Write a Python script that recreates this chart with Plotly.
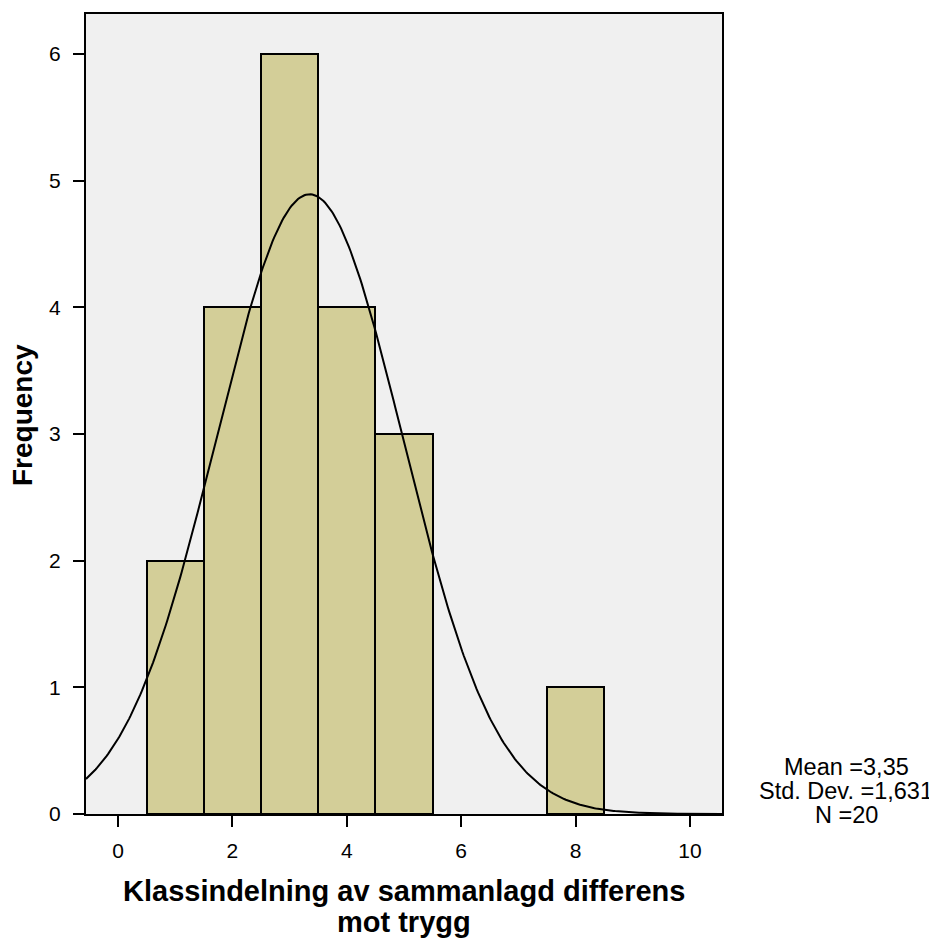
import numpy as np
import plotly.graph_objects as go

bin_centers = [1, 2, 3, 4, 5, 8]
frequencies = [2, 4, 6, 4, 3, 1]
mean_val = 3.35
std_val = 1.631
n_val = 20
x_ticks = [0, 2, 4, 6, 8, 10]
y_ticks = [0, 1, 2, 3, 4, 5, 6]
stats_lines = ["Mean =3,35", "Std. Dev. =1,631", "N =20"]
x_title_lines = ["Klassindelning av sammanlagd differens", "mot trygg"]
y_title = "Frequency"

x_min, x_max = -0.56, 10.56
xs = np.linspace(x_min, x_max, 400)
ys = n_val * 1.0 / (std_val * np.sqrt(2 * np.pi)) * np.exp(-((xs - mean_val) ** 2) / (2 * std_val ** 2))

fig = go.Figure()
fig.add_trace(go.Bar(
    x=bin_centers, y=frequencies, width=1,
    marker=dict(color="#D3CE98", line=dict(color="black", width=2)),
    showlegend=False, hoverinfo="x+y",
))
fig.add_trace(go.Scatter(
    x=xs, y=ys, mode="lines", line=dict(color="black", width=2),
    showlegend=False, hoverinfo="skip",
))

font_family = "Liberation Sans, Arial, sans-serif"
fig.update_layout(
    width=937, height=938,
    margin=dict(l=78, r=223, t=4, b=132),
    plot_bgcolor="#F0F0F0", paper_bgcolor="white",
    font=dict(family=font_family, color="black", size=21),
    bargap=0,
    xaxis=dict(
        range=[x_min, x_max], tickvals=x_ticks, ticks="outside", ticklen=11, tickwidth=2,
        tickcolor="black", showline=True, linecolor="black", linewidth=2, mirror=True,
        showgrid=False, zeroline=False, tickfont=dict(size=21), ticklabelstandoff=6,
    ),
    yaxis=dict(
        range=[0, 6.315], tickvals=y_ticks, ticks="outside", ticklen=11, tickwidth=2,
        tickcolor="black", showline=True, linecolor="black", linewidth=2, mirror=True,
        showgrid=False, zeroline=False, tickfont=dict(size=21), ticklabelstandoff=8,
    ),
)

def px_x(px):
    return (px - 86) / 636.0

def px_y(py):
    return (814 - py) / 802.0

for line, py in zip(stats_lines, [767, 791, 815]):
    fig.add_annotation(xref="paper", yref="paper", x=px_x(846), y=px_y(py), text=line,
                       showarrow=False, font=dict(size=23.5), xanchor="center", yanchor="middle")

for line, py in zip(x_title_lines, [891, 922]):
    fig.add_annotation(xref="paper", yref="paper", x=0.5, y=px_y(py), text="<b>" + line + "</b>",
                       showarrow=False, font=dict(size=29), xanchor="center", yanchor="middle")

fig.add_annotation(xref="paper", yref="paper", x=px_x(23), y=px_y(414), text="<b>" + y_title + "</b>",
                   textangle=-90, showarrow=False, font=dict(size=28), xanchor="center", yanchor="middle")

fig.write_html("out.html")
